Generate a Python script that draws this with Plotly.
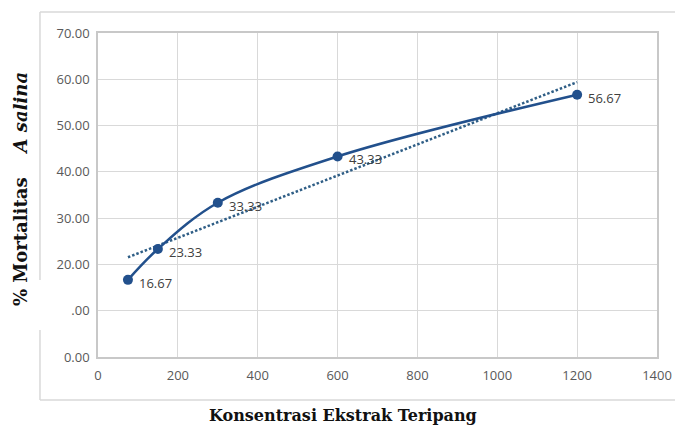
import numpy as np
import plotly.graph_objects as go

# Data
konsentrasi = [75, 150, 300, 600, 1200]
mortalitas = [16.67, 23.33, 33.33, 43.33, 56.67]
label_text = ["16.67", "23.33", "33.33", "43.33", "56.67"]

x_tickvals = [0, 200, 400, 600, 800, 1000, 1200, 1400]
x_ticktext = ["0", "200", "400", "600", "800", "1000", "1200", "1400"]
y_tickvals = [0, 10, 20, 30, 40, 50, 60, 70]
y_ticktext = ["0.00", ".00", "20.00", "30.00", "40.00", "50.00", "60.00", "70.00"]

x_title = "Konsentrasi Ekstrak Teripang"
y_title = "% Mortalitas\u00a0\u00a0\u00a0\u00a0<i>A salina</i>"

# Linear trendline (least squares, as in the spreadsheet's trendline)
slope, intercept = np.polyfit(konsentrasi, mortalitas, 1)
trend_x = [min(konsentrasi), max(konsentrasi)]
trend_y = [slope * v + intercept for v in trend_x]

line_color = "#22508c"
trend_color = "#2f5e86"
grid_color = "#d9d9d9"

fig = go.Figure()
fig.add_trace(go.Scatter(
    x=trend_x, y=trend_y, mode="lines",
    line=dict(color=trend_color, width=2.5, dash="2.5px,2px"),
    hoverinfo="skip", showlegend=False,
))
fig.add_trace(go.Scatter(
    x=konsentrasi, y=mortalitas, mode="lines+markers",
    line=dict(color=line_color, width=2.5, shape="spline", smoothing=1.0),
    marker=dict(color=line_color, size=10),
    showlegend=False,
))

annotations = []
for xv, yv, t in zip(konsentrasi, mortalitas, label_text):
    annotations.append(dict(
        x=xv, y=yv, xref="x", yref="y", text=t, showarrow=False,
        xanchor="left", yanchor="middle", xshift=9, yshift=-3,
        font=dict(family="Open Sans", size=13, color="#404040"),
    ))

annotations.append(dict(
    x=0.438, y=-0.18, xref="paper", yref="paper", text="<b>" + x_title + "</b>",
    showarrow=False, xanchor="center", yanchor="middle",
    font=dict(family="DejaVu Serif", size=16, color="#111111"),
))
annotations.append(dict(
    x=-0.1395, y=0.5185, xref="paper", yref="paper", text="<b>" + y_title + "</b>",
    showarrow=False, xanchor="center", yanchor="middle", textangle=-90,
    font=dict(family="DejaVu Serif", size=18, color="#111111"),
))

border = dict(color=grid_color, width=1.5)
shapes = [
    dict(type="line", xref="paper", yref="paper", x0=-0.1038, x1=1.05, y0=1.0648, y1=1.0648, line=border),
    dict(type="line", xref="paper", yref="paper", x0=-0.1038, x1=1.05, y0=-0.1327, y1=-0.1327, line=border),
    dict(type="line", xref="paper", yref="paper", x0=-0.1038, x1=-0.1038, y0=1.0648, y1=0.2377, line=border),
    dict(type="line", xref="paper", yref="paper", x0=-0.1038, x1=-0.1038, y0=0.0833, y1=-0.1327, line=border),
]

fig.update_layout(
    width=675, height=427, autosize=False,
    margin=dict(l=98, r=18, t=33, b=70),
    paper_bgcolor="white", plot_bgcolor="white",
    annotations=annotations, shapes=shapes,
    xaxis=dict(
        range=[0, 1400], tickvals=x_tickvals, ticktext=x_ticktext,
        showgrid=True, gridcolor=grid_color, gridwidth=1,
        showline=True, linecolor="#c8c8c8", linewidth=1.5, mirror=True,
        zeroline=False, ticks="", ticklabelstandoff=6, automargin=False,
        tickfont=dict(family="Open Sans", size=13, color="#595959"),
    ),
    yaxis=dict(
        range=[0, 70], tickvals=y_tickvals, ticktext=y_ticktext,
        showgrid=True, gridcolor=grid_color, gridwidth=1,
        showline=True, linecolor="#c8c8c8", linewidth=1.5, mirror=True,
        zeroline=False, ticks="", ticklabelstandoff=4, automargin=False,
        tickfont=dict(family="Open Sans", size=13, color="#595959"),
    ),
)

fig.write_html(
    "out.html",
    config={"displayModeBar": False},
    post_script=(
        "document.documentElement.style.margin='0';"
        "document.documentElement.style.overflow='hidden';"
        "document.body.style.margin='0';document.body.style.overflow='hidden';"
    ),
)
